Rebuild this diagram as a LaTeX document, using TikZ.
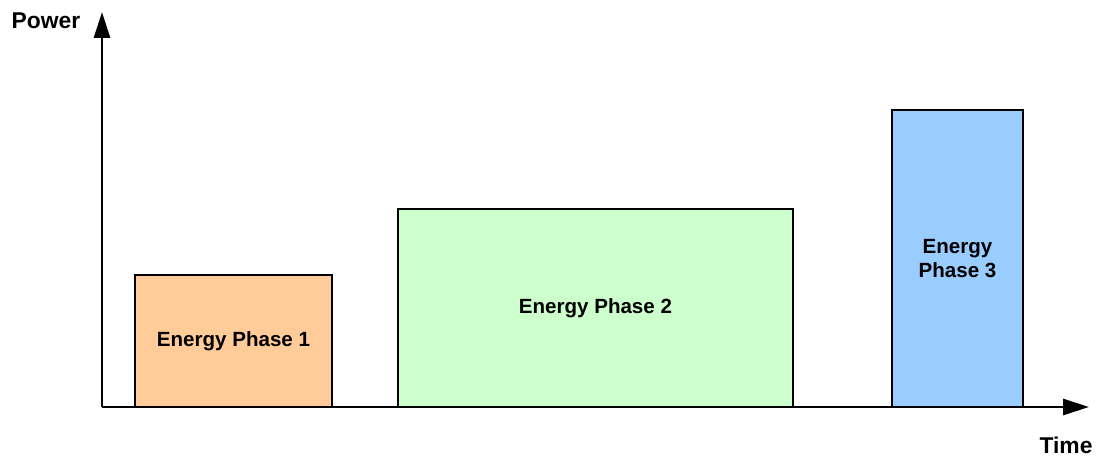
\documentclass[tikz,border=0pt]{standalone}
\usepackage{fontspec}
\setmainfont{Liberation Sans}
\usetikzlibrary{arrows.meta}
\begin{document}
\begin{tikzpicture}[x=0.02cm,y=-0.02cm,>={Triangle[length=5.2mm,width=3.2mm]},
    axis/.style={line width=1.6pt},
    axislabel/.style={inner sep=0pt,font=\fontsize{13}{15}\selectfont\bfseries},
    phase/.style={draw,line width=0.8pt,anchor=south west,inner sep=0pt,outer sep=0pt,
        align=center,font=\fontsize{11.7}{13.7}\selectfont\bfseries}]
\useasboundingbox (0,0) rectangle (1103,456);
% axes
\coordinate (o) at (102,407);
\coordinate (ytip) at (102,12);
\coordinate (xtip) at (1089,407);
\node[axislabel] (power) at (46,21) {Power};
\node[axislabel] (time) at (1066,445) {Time};
% phases
\node[phase,fill={rgb,255:red,255;green,204;blue,153},minimum width=3.94cm,minimum height=2.64cm]
    (p1) at (135,407) {Energy Phase 1};
\node[phase,fill={rgb,255:red,204;green,255;blue,204},minimum width=7.9cm,minimum height=3.96cm]
    (p2) at (398,407) {Energy Phase 2};
\node[phase,fill={rgb,255:red,153;green,204;blue,255},minimum width=2.62cm,minimum height=5.94cm]
    (p3) at (892,407) {Energy\\Phase 3};
\draw[axis,->] (o) -- (ytip);
\draw[axis,->] (o) -- (xtip);
\end{tikzpicture}
\end{document}
